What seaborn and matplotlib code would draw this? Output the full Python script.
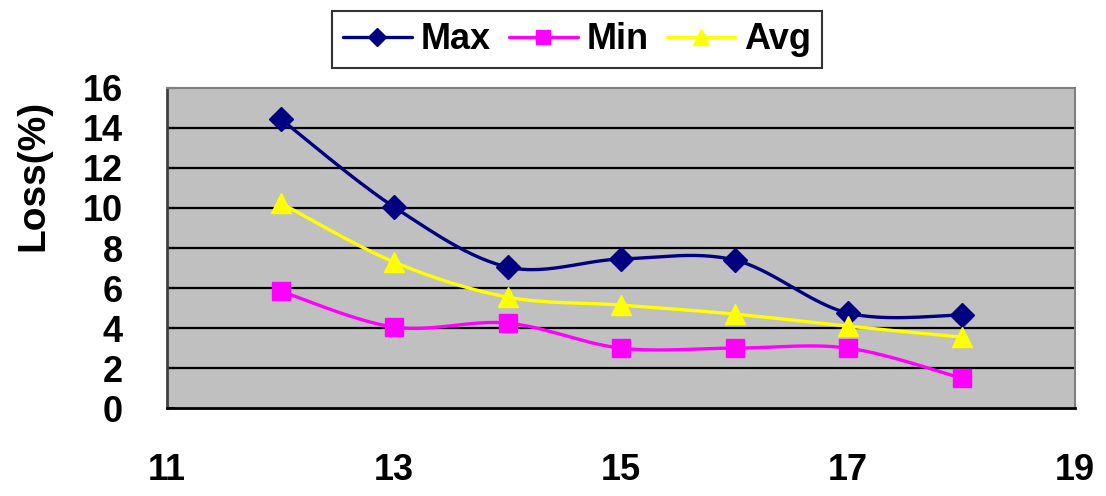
import numpy as np
import pandas as pd
import matplotlib
matplotlib.use("Agg")
import matplotlib.pyplot as plt
from matplotlib.lines import Line2D
import seaborn as sns

# values
x_vals = [12, 13, 14, 15, 16, 17, 18]
max_vals = [14.45, 10.05, 7.05, 7.45, 7.4, 4.75, 4.65]
min_vals = [5.85, 4.05, 4.25, 3.0, 3.0, 3.0, 1.5]
avg_vals = [10.25, 7.3, 5.55, 5.15, 4.7, 4.1, 3.55]
series_names = ["Max", "Min", "Avg"]
colors = {"Max": "#000080", "Min": "#FF00FF", "Avg": "#FFFF00"}
markers = {"Max": "D", "Min": "s", "Avg": "^"}
msizes = {"Max": 12, "Min": 13, "Avg": 15}


def smooth(x, y, n=30):
    # catmull-rom, like excel's "smoothed line"
    x = np.asarray(x, float)
    y = np.asarray(y, float)
    px = np.concatenate([[x[0]], x, [x[-1]]])
    py = np.concatenate([[y[0]], y, [y[-1]]])
    xs, ys = [], []
    t = np.linspace(0, 1, n)
    for i in range(1, len(px) - 2):
        for arr, out in ((px, xs), (py, ys)):
            p0, p1, p2, p3 = arr[i - 1], arr[i], arr[i + 1], arr[i + 2]
            out.extend(0.5 * ((2 * p1) + (-p0 + p2) * t
                              + (2 * p0 - 5 * p1 + 4 * p2 - p3) * t ** 2
                              + (-p0 + 3 * p1 - 3 * p2 + p3) * t ** 3))
    return np.array(xs), np.array(ys)


data = {"Max": max_vals, "Min": min_vals, "Avg": avg_vals}
pts = pd.DataFrame({"x": x_vals * 3,
                    "y": max_vals + min_vals + avg_vals,
                    "series": np.repeat(series_names, len(x_vals))})

sns.set_style("white")
plt.rcParams["font.family"] = ["Liberation Sans", "DejaVu Sans"]
plt.rcParams["font.weight"] = "bold"
plt.rcParams["text.color"] = "black"
plt.rcParams["axes.labelcolor"] = "black"
plt.rcParams["xtick.color"] = "black"
plt.rcParams["ytick.color"] = "black"

fig = plt.figure(figsize=(11.06, 4.96), dpi=100)
ax = fig.add_axes([0.151, 0.177, 0.821, 0.646])
ax.set_facecolor("#C0C0C0")

for name in series_names:
    sx, sy = smooth(x_vals, data[name])
    sns.lineplot(x=sx, y=sy, ax=ax, color=colors[name], lw=2.4, sort=False,
                 estimator=None, zorder=3)
    sub = pts[pts.series == name]
    ax.plot(sub.x, sub.y, ls="none", marker=markers[name], ms=msizes[name],
            color=colors[name], mec=colors[name], zorder=4)

ax.set_xlim(11, 19)
ax.set_ylim(0, 16)
ax.set_yticks(range(0, 17, 2))
ax.set_xticks(range(11, 20, 2))
ax.set_xticks(x_vals, minor=True)
for yy in range(2, 16, 2):
    ax.axhline(yy, color="black", lw=1.6, zorder=1)

ax.tick_params(axis="x", which="major", length=0, pad=32, labelsize=26)
ax.tick_params(axis="x", which="minor", direction="in", length=8, width=1.5,
               color="black")
ax.tick_params(axis="y", direction="in", length=6, width=1.5, color="black",
               pad=32, labelsize=26, left=True)
for lab in ax.get_xticklabels() + ax.get_yticklabels():
    lab.set_fontweight("bold")

for side in ["top", "right"]:
    ax.spines[side].set_color("#808080")
    ax.spines[side].set_linewidth(1.5)
ax.spines["left"].set_color("#404040")
ax.spines["left"].set_linewidth(2)
ax.spines["bottom"].set_color("black")
ax.spines["bottom"].set_linewidth(2)

ax.set_ylabel("Loss(%)", fontsize=28, fontweight="bold")
ax.yaxis.set_label_coords(-0.127, 0.725)
ax.set_xlabel("")

handles = [Line2D([], [], color=colors[n], lw=2.4, marker=markers[n],
                  ms=msizes[n] * 0.75, mec=colors[n]) for n in series_names]
leg = fig.legend(handles, series_names, loc="center",
                 bbox_to_anchor=(0.522, 0.92), ncol=3, frameon=True,
                 fancybox=False, edgecolor="black", handlelength=1.9,
                 columnspacing=0.5, handletextpad=0.25, borderpad=0.3,
                 borderaxespad=0, prop={"size": 26, "weight": "bold"})
leg.get_frame().set_linewidth(1.5)

fig.savefig("out.png", dpi=100)
